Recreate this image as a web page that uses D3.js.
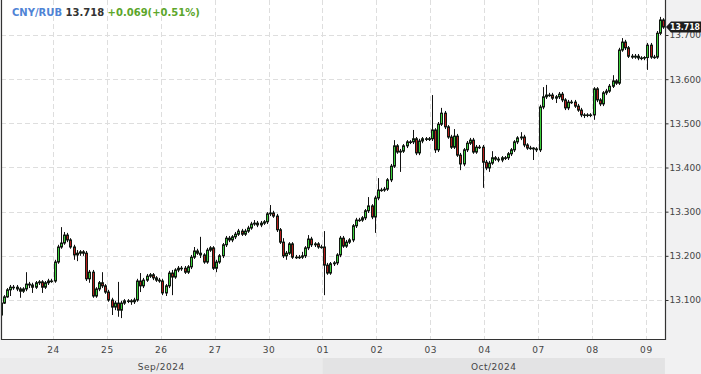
<!DOCTYPE html>
<html><head><meta charset="utf-8">
<script src="https://cdn.jsdelivr.net/npm/d3@7"></script>
<style>body{margin:0;background:#f1f1f2;} svg{display:block}</style>
</head><body><svg id="c" width="701" height="374"></svg>
<script>
// ---- data ----
const symbol = "CNY/RUB";
const lastPrice = 13.718;
const change = 0.069;
const changePct = 0.51;
const dayLabels = ["23","24","25","26","27","30","01","02","03","04","07","08","09"];
const monthLabels = ["Sep/2024","Oct/2024"];
const monthStartDay = [0, 6];           // index into dayLabels where each month begins
const candlesPerDay = 17;
const yTicks = [13.1,13.2,13.3,13.4,13.5,13.6,13.7];
const firstOpen = 13.066;
const closes = [
13.093,13.107,13.123,13.129,13.129,13.125,13.120,13.125,13.136,13.134,13.129,13.139,13.141,13.129,13.139,13.143,13.143,
13.186,13.220,13.229,13.247,13.236,13.220,13.202,13.206,13.209,13.206,13.148,13.163,13.109,13.125,13.139,13.132,13.118,
13.100,13.084,13.093,13.077,13.093,13.098,13.098,13.096,13.100,13.143,13.132,13.145,13.154,13.157,13.150,13.145,13.143,
13.116,13.132,13.161,13.152,13.168,13.172,13.172,13.163,13.175,13.197,13.211,13.206,13.202,13.186,13.213,13.218,13.172,
13.186,13.200,13.225,13.240,13.236,13.243,13.249,13.256,13.249,13.256,13.263,13.272,13.274,13.270,13.274,13.277,13.295,
13.297,13.290,13.259,13.231,13.200,13.206,13.227,13.197,13.197,13.197,13.200,13.218,13.238,13.225,13.227,13.220,13.220,
13.179,13.161,13.182,13.184,13.202,13.240,13.222,13.231,13.236,13.268,13.281,13.281,13.286,13.302,13.313,13.288,13.331,
13.349,13.349,13.351,13.372,13.403,13.449,13.435,13.437,13.449,13.458,13.458,13.465,13.433,13.460,13.465,13.465,13.465,
13.485,13.440,13.498,13.523,13.492,13.469,13.446,13.471,13.428,13.408,13.440,13.455,13.462,13.435,13.446,13.446,13.412,
13.399,13.410,13.422,13.419,13.417,13.422,13.422,13.431,13.440,13.458,13.467,13.469,13.451,13.444,13.444,13.442,13.440,
13.537,13.560,13.564,13.564,13.557,13.560,13.566,13.553,13.535,13.548,13.548,13.539,13.530,13.519,13.519,13.519,13.519,
13.578,13.553,13.544,13.569,13.573,13.584,13.596,13.591,13.666,13.684,13.671,13.652,13.650,13.652,13.648,13.648,13.649,
13.677,13.650,13.650,13.704,13.734,13.718
];
const highs = [
13.098,13.111,13.127,13.134,13.134,13.134,13.129,13.129,13.163,13.141,13.139,13.143,13.145,13.145,13.143,13.148,13.148,
13.191,13.225,13.265,13.254,13.252,13.240,13.225,13.213,13.213,13.213,13.211,13.168,13.168,13.129,13.143,13.163,13.136,
13.123,13.105,13.098,13.141,13.098,13.102,13.102,13.102,13.105,13.148,13.161,13.150,13.159,13.161,13.161,13.154,13.150,
13.148,13.136,13.166,13.168,13.172,13.177,13.177,13.177,13.179,13.202,13.220,13.216,13.243,13.206,13.218,13.222,13.222,
13.191,13.204,13.229,13.245,13.245,13.247,13.254,13.261,13.261,13.261,13.268,13.277,13.281,13.279,13.279,13.281,13.299,
13.315,13.302,13.295,13.263,13.240,13.211,13.231,13.231,13.202,13.202,13.209,13.222,13.247,13.243,13.231,13.231,13.225,
13.256,13.184,13.186,13.188,13.206,13.245,13.245,13.236,13.240,13.272,13.286,13.286,13.290,13.306,13.333,13.317,13.336,
13.376,13.354,13.356,13.376,13.408,13.462,13.453,13.442,13.453,13.462,13.462,13.485,13.469,13.465,13.469,13.469,13.469,
13.564,13.489,13.503,13.535,13.528,13.496,13.474,13.487,13.476,13.433,13.444,13.460,13.467,13.467,13.451,13.451,13.451,
13.417,13.415,13.437,13.426,13.424,13.426,13.426,13.435,13.444,13.462,13.471,13.480,13.474,13.455,13.449,13.446,13.446,
13.542,13.582,13.587,13.569,13.569,13.564,13.571,13.571,13.557,13.553,13.553,13.553,13.544,13.535,13.523,13.523,13.523,
13.582,13.582,13.557,13.573,13.578,13.589,13.609,13.600,13.671,13.693,13.689,13.675,13.657,13.657,13.657,13.652,13.652,
13.682,13.682,13.655,13.709,13.741,13.738
];
const lows = [
13.059,13.091,13.105,13.109,13.123,13.120,13.105,13.116,13.120,13.127,13.116,13.125,13.134,13.116,13.125,13.134,13.139,
13.139,13.182,13.216,13.225,13.231,13.216,13.191,13.188,13.200,13.200,13.143,13.139,13.105,13.105,13.120,13.127,13.114,
13.096,13.066,13.077,13.062,13.059,13.089,13.093,13.089,13.091,13.096,13.118,13.127,13.141,13.150,13.145,13.141,13.139,
13.111,13.109,13.127,13.111,13.148,13.163,13.166,13.159,13.159,13.170,13.193,13.202,13.195,13.182,13.182,13.209,13.168,
13.163,13.182,13.195,13.220,13.231,13.231,13.238,13.245,13.245,13.245,13.252,13.259,13.268,13.265,13.265,13.270,13.272,
13.290,13.286,13.254,13.227,13.195,13.191,13.202,13.193,13.193,13.193,13.193,13.195,13.213,13.220,13.220,13.216,13.216,
13.111,13.157,13.157,13.177,13.179,13.197,13.218,13.218,13.227,13.231,13.263,13.277,13.277,13.281,13.297,13.283,13.252,
13.326,13.345,13.345,13.347,13.367,13.399,13.431,13.390,13.433,13.444,13.453,13.453,13.428,13.428,13.455,13.460,13.460,
13.460,13.433,13.435,13.494,13.487,13.465,13.442,13.442,13.424,13.394,13.403,13.435,13.451,13.431,13.431,13.442,13.354,
13.394,13.390,13.406,13.415,13.412,13.412,13.417,13.417,13.426,13.435,13.453,13.462,13.446,13.440,13.440,13.417,13.435,
13.435,13.532,13.555,13.560,13.553,13.546,13.555,13.548,13.530,13.530,13.544,13.535,13.526,13.514,13.512,13.514,13.514,
13.508,13.548,13.539,13.539,13.564,13.569,13.580,13.587,13.587,13.662,13.666,13.648,13.646,13.646,13.643,13.643,13.643,
13.621,13.646,13.646,13.646,13.700,13.714
];

// ---- layout ----
const W = 701, H = 374;
const plot = {left: 1, right: 665, top: 0, bottom: 339};
const svg = d3.select("#c");
const font = "'DejaVu Sans', Verdana, sans-serif";

const n = closes.length;
const candles = closes.map((c, i) => ({
  i, open: i === 0 ? firstOpen : closes[i - 1], close: c, high: highs[i], low: lows[i]
}));

const xs = d3.scaleLinear().domain([0, n]).range([-0.9, 664.9]);
const y = d3.scaleLinear().domain([13.1, 13.7]).range([300, 35]);

// backgrounds
svg.append("rect").attr("width", W).attr("height", H).attr("fill", "#f1f1f2");
svg.append("rect").attr("x", plot.left).attr("y", plot.top)
  .attr("width", plot.right - plot.left).attr("height", plot.bottom - plot.top).attr("fill", "#ffffff");

// month bands
const bandColors = ["#ebebec", "#e3e3e4"];
monthLabels.forEach((m, k) => {
  const s = monthStartDay[k] * candlesPerDay;
  const e = k + 1 < monthLabels.length ? monthStartDay[k + 1] * candlesPerDay : n;
  const x0 = Math.max(0, xs(s)), x1 = xs(e);
  svg.append("rect").attr("x", x0).attr("y", 358).attr("width", x1 - x0).attr("height", 16)
    .attr("fill", bandColors[k]);
  svg.append("text").attr("x", (x0 + x1) / 2).attr("y", 369.5).attr("text-anchor", "middle")
    .attr("font-family", font).attr("font-size", 9).attr("letter-spacing", 0.5)
    .attr("fill", "#444").text(m);
});

const defs = svg.append("defs");
defs.append("clipPath").attr("id", "pc").append("rect")
  .attr("x", plot.left).attr("y", plot.top).attr("width", plot.right - plot.left).attr("height", plot.bottom - plot.top);

// grid
const grid = svg.append("g").attr("clip-path", "url(#pc)");
const dayStarts = d3.range(1, dayLabels.length).map(d => d * candlesPerDay);
grid.selectAll("line.v").data(dayStarts).join("line")
  .attr("x1", d => Math.round(xs(d)) + 0.5).attr("x2", d => Math.round(xs(d)) + 0.5)
  .attr("y1", plot.top).attr("y2", plot.bottom)
  .attr("stroke", "#dedede").attr("stroke-dasharray", "5,3");
grid.selectAll("line.h").data(yTicks).join("line")
  .attr("x1", plot.left).attr("x2", plot.right)
  .attr("y1", d => Math.round(y(d)) + 0.5).attr("y2", d => Math.round(y(d)) + 0.5)
  .attr("stroke", "#dedede").attr("stroke-dasharray", "5,3");

// candles
const cg = svg.append("g").attr("clip-path", "url(#pc)");
const cx = d => xs(d.i + 0.5);
cg.selectAll("line.w").data(candles).join("line")
  .attr("x1", d => Math.round(cx(d)) + 0.5).attr("x2", d => Math.round(cx(d)) + 0.5)
  .attr("y1", d => y(Math.max(d.high, d.open, d.close))).attr("y2", d => y(Math.min(d.low, d.open, d.close)))
  .attr("stroke", "#111").attr("stroke-width", 1);
cg.selectAll("rect.b").data(candles).join("rect")
  .attr("x", d => Math.round(cx(d)) - 0.5).attr("width", 2)
  .attr("y", d => y(Math.max(d.open, d.close)))
  .attr("height", d => Math.max(0.6, Math.abs(y(d.open) - y(d.close))))
  .attr("fill", d => d.close > d.open ? "#3cd03c" : (d.close < d.open ? "#b41c1c" : "#111"))
  .attr("stroke", "#101810").attr("stroke-width", 1);

// frame
svg.append("path").attr("d", `M${plot.left + 0.5},${plot.top}V${plot.bottom + 0.5}H${plot.right + 0.5}V${plot.top}`)
  .attr("fill", "none").attr("stroke", "#333").attr("stroke-width", 1.2);

// x axis
const xAxis = d3.axisBottom(xs).tickValues(dayStarts)
  .tickFormat(d => dayLabels[d / candlesPerDay]).tickSize(0).tickPadding(8);
const xg = svg.append("g").attr("transform", `translate(0,${plot.bottom})`).call(xAxis);
xg.select(".domain").remove();
xg.selectAll("text").attr("font-family", font).attr("font-size", 9).attr("letter-spacing", 0.6).attr("fill", "#444");

// y axis (right)
const yAxis = d3.axisRight(y).tickValues(yTicks).tickFormat(d3.format(".3f")).tickSize(3).tickPadding(1);
const yg = svg.append("g").attr("transform", `translate(${plot.right + 0.5},0)`).call(yAxis);
yg.select(".domain").remove();
yg.selectAll("line").attr("stroke", "#333");
yg.selectAll("text").attr("font-family", font).attr("font-size", 9).attr("fill", "#444");

// last price tag
const ly = y(lastPrice);
svg.append("path").attr("d", `M${plot.right + 1},${ly}L${plot.right + 6},${ly - 5.5}H${W}V${ly + 5.5}H${plot.right + 6}Z`)
  .attr("fill", "#1c1c1c");
svg.append("text").attr("x", plot.right + 5).attr("y", ly + 3.4)
  .attr("font-family", font).attr("font-size", 9).attr("font-weight", "bold").attr("fill", "#fff")
  .attr("textLength", 30).attr("lengthAdjust", "spacingAndGlyphs")
  .text(d3.format(".3f")(lastPrice));

// header
const hdr = svg.append("text").attr("x", 12).attr("y", 16)
  .attr("font-family", font).attr("font-size", 10).attr("font-weight", "bold");
hdr.append("tspan").attr("fill", "#4f84d6").text(symbol);
hdr.append("tspan").attr("fill", "#333").text(" " + d3.format(".3f")(lastPrice));
hdr.append("tspan").attr("fill", "#5ca62b")
  .text(" " + d3.format("+.3f")(change) + "(" + d3.format("+.2f")(changePct) + "%)");
</script>
</body></html>
